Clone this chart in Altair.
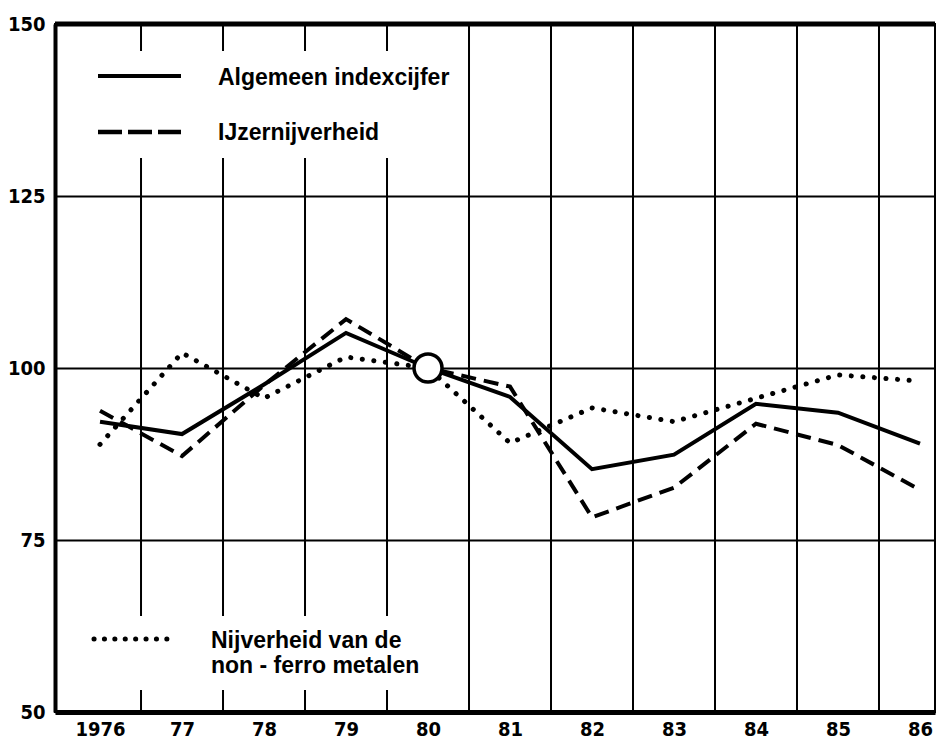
import altair as alt
import pandas as pd

# ---- data ----
years = [1976, 1977, 1978, 1979, 1980, 1981, 1982, 1983, 1984, 1985, 1986]
tick_labels = ["1976", "77", "78", "79", "80", "81", "82", "83", "84", "85", "86"]
algemeen = [92.2, 90.4, 97.6, 105.1, 100.0, 95.8, 85.3, 87.4, 94.8, 93.5, 89.0]
ijzer = [93.8, 87.2, 97.5, 107.1, 100.0, 97.3, 78.3, 82.6, 91.9, 88.8, 82.3]
nonferro = [88.9, 102.2, 95.6, 101.6, 100.0, 89.1, 94.2, 92.2, 95.6, 99.0, 98.1]
y_ticks = [50, 75, 100, 125, 150]
v_grid = [1976.5, 1977.5, 1978.5, 1979.5, 1980.5, 1981.5, 1982.5, 1983.5, 1984.5, 1985.5]
base_year = [1980]
base_value = [100]

legend_top = ["Algemeen indexcijfer", "IJzernijverheid"]
legend_bottom = ["Nijverheid van de", "non - ferro metalen"]

W, H = 880, 688
FONT_NUM = "Liberation Sans Narrow, DejaVu Sans Condensed, Liberation Sans"
FONT_TXT = "Liberation Sans, Arial, Helvetica"

x_scale = alt.Scale(domain=[1975.451, 1986.183], nice=False, zero=False)
y_scale = alt.Scale(domain=[50, 150], nice=False, zero=False)

label_expr = "[" + ",".join("'" + t + "'" for t in tick_labels) + "][datum.value - 1976]"

x_axis = alt.Axis(values=years, labelExpr=label_expr, grid=False, ticks=False,
                  domainWidth=5, domainColor="black", labelFont=FONT_NUM,
                  labelFontSize=20, labelFontWeight="bold", labelColor="black",
                  labelPadding=7, labelFlush=False, labelOverlap=False, title=None)
y_axis = alt.Axis(values=y_ticks, grid=True, gridColor="black", gridWidth=2,
                  gridOpacity=1, ticks=False, domainWidth=4, domainColor="black",
                  labelFont=FONT_NUM, labelFontSize=20, labelFontWeight="bold",
                  labelColor="black", labelPadding=10, labelFlush=False, title=None)

df_a = pd.DataFrame({"year": years, "value": algemeen})
df_i = pd.DataFrame({"year": years, "value": ijzer})
df_n = pd.DataFrame({"year": years, "value": nonferro})
df_g = pd.DataFrame({"year": v_grid})
df_c = pd.DataFrame({"year": base_year, "value": base_value})

base_axes = alt.Chart(df_a).mark_line(opacity=0).encode(
    x=alt.X("year:Q", scale=x_scale, axis=x_axis),
    y=alt.Y("value:Q", scale=y_scale, axis=y_axis),
)

vgrid = alt.Chart(df_g).mark_rule(color="black", strokeWidth=2).encode(
    x=alt.X("year:Q", scale=x_scale)
)

# white patches behind the legends (they interrupt the grid in the original)
box_top = alt.Chart(df_c).mark_rect(color="white").encode(
    x=alt.value(33), x2=alt.value(407), y=alt.value(27), y2=alt.value(134)
)
box_bottom = alt.Chart(df_c).mark_rect(color="white").encode(
    x=alt.value(33), x2=alt.value(407), y=alt.value(592), y2=alt.value(666)
)

line_a = alt.Chart(df_a).mark_line(color="black", strokeWidth=4, strokeJoin="miter").encode(
    x=alt.X("year:Q", scale=x_scale), y=alt.Y("value:Q", scale=y_scale)
)
line_i = alt.Chart(df_i).mark_line(color="black", strokeWidth=4, strokeDash=[15, 8]).encode(
    x=alt.X("year:Q", scale=x_scale), y=alt.Y("value:Q", scale=y_scale)
)
line_n = alt.Chart(df_n).mark_line(color="black", strokeWidth=5, strokeDash=[0.1, 11.5],
                                   strokeCap="round").encode(
    x=alt.X("year:Q", scale=x_scale), y=alt.Y("value:Q", scale=y_scale)
)

circle = alt.Chart(df_c).mark_point(shape="circle", size=784, fill="white", fillOpacity=1,
                                    stroke="black", strokeWidth=3.5, opacity=1).encode(
    x=alt.X("year:Q", scale=x_scale), y=alt.Y("value:Q", scale=y_scale)
)

top_border = alt.Chart(df_c).mark_rule(color="black", strokeWidth=5).encode(
    x=alt.value(0), x2=alt.value(W), y=alt.value(0)
)

# legend samples
leg_solid = alt.Chart(df_c).mark_rule(color="black", strokeWidth=4).encode(
    x=alt.value(43), x2=alt.value(126), y=alt.value(52)
)
leg_dash = alt.Chart(df_c).mark_rule(color="black", strokeWidth=4.5, strokeDash=[24, 6]).encode(
    x=alt.value(43), x2=alt.value(126), y=alt.value(108)
)
leg_dot = alt.Chart(df_c).mark_rule(color="black", strokeWidth=5, strokeDash=[0.1, 10.3],
                                    strokeCap="round").encode(
    x=alt.value(39), x2=alt.value(122), y=alt.value(615)
)

txt_a = alt.Chart(df_c).mark_text(text=legend_top[0], font=FONT_TXT, fontSize=23,
                                  fontWeight="bold", align="left", baseline="alphabetic",
                                  color="black").encode(x=alt.value(163), y=alt.value(61))
txt_i = alt.Chart(df_c).mark_text(text=legend_top[1], font=FONT_TXT, fontSize=23,
                                  fontWeight="bold", align="left", baseline="alphabetic",
                                  color="black").encode(x=alt.value(163), y=alt.value(116))
txt_n1 = alt.Chart(df_c).mark_text(text=legend_bottom[0], font=FONT_TXT, fontSize=23,
                                   fontWeight="bold", align="left", baseline="alphabetic",
                                   color="black").encode(x=alt.value(156), y=alt.value(624))
txt_n2 = alt.Chart(df_c).mark_text(text=legend_bottom[1], font=FONT_TXT, fontSize=23,
                                   fontWeight="bold", align="left", baseline="alphabetic",
                                   color="black").encode(x=alt.value(156), y=alt.value(649))

chart = alt.layer(
    base_axes, vgrid, box_top, box_bottom, line_n, line_i, line_a, circle, top_border,
    leg_solid, leg_dash, leg_dot, txt_a, txt_i, txt_n1, txt_n2
).properties(
    width=W, height=H,
    autosize=alt.AutoSizeParams(type="none"),
    padding={"left": 47, "top": 16, "right": 7, "bottom": 28},
    background="white",
).configure_view(stroke="black", strokeWidth=2)

chart.save("out.html", embed_options={"renderer": "svg", "actions": False})
